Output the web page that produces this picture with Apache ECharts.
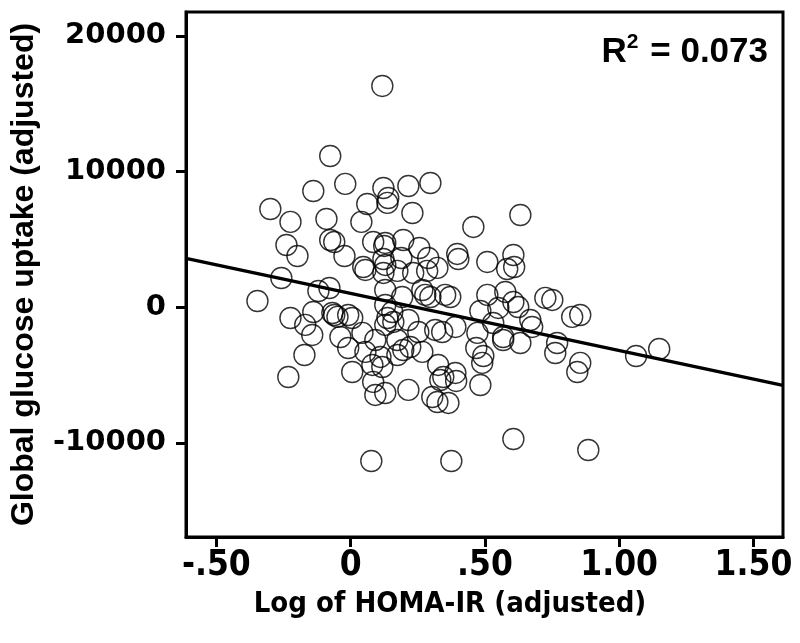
<!DOCTYPE html>
<html>
<head>
<meta charset="utf-8">
<script src="https://cdn.jsdelivr.net/npm/echarts@6/dist/echarts.min.js"></script>
<style>
  html, body { margin: 0; padding: 0; background: #fff; }
  #chart { width: 800px; height: 643px; }
</style>
</head>
<body>
<div id="chart"></div>
<script>
// Log of HOMA-IR (adjusted)
const xValues = [
  0.118, -0.076, -0.020, -0.139, 0.122, 0.215, 0.297, 0.062, 0.140, 0.137,
  -0.299, -0.224, -0.090, 0.040, 0.230, 0.457, 0.632, -0.239, -0.198, -0.076,
  -0.061, -0.023, 0.084, 0.129, 0.125, 0.196, 0.256, 0.047, 0.055, 0.122,
  0.129, 0.189, 0.289, 0.323, 0.397, 0.401, 0.509, 0.606, 0.583, 0.609,
  0.122, 0.174, 0.233, 0.285, -0.258, -0.347, -0.120, -0.079, -0.224, -0.139,
  -0.169, -0.143, -0.068, -0.061, -0.049, -0.038, -0.172, -0.232, 0.129, 0.267,
  0.278, 0.297, 0.352, 0.371, 0.129, 0.192, -0.009, 0.006, 0.137, 0.159,
  0.129, 0.215, 0.252, 0.315, 0.341, 0.390, 0.483, 0.044, 0.092, 0.174,
  0.196, -0.009, 0.055, 0.111, 0.222, 0.267, 0.468, 0.494, 0.490, 0.006,
  0.081, 0.118, 0.326, 0.345, 0.334, 0.390, 0.084, 0.092, 0.129, 0.215,
  0.304, 0.323, 0.364, 0.483, 0.077, 0.375, 0.606, 0.885, 0.509, 0.576,
  0.606, 0.624, 0.550, 0.725, 0.751, 0.825, 0.855, 0.531, 0.669, 0.676,
  0.472, 0.568, 0.568, 0.632, 0.769, 0.762, 0.855, 0.844, 1.063, 1.149,
  0.393, 0.174, 0.155
];
// Global glucose uptake (adjusted)
const yValues = [
  16310, 11150, 9090, 8570, 8790, 8940, 9160, 7610, 8050, 7690,
  7240, 6290, 6510, 6290, 6950, 5920, 6800, 4590, 3780, 4960,
  4810, 3780, 4810, 4740, 4520, 4960, 4370, 2970, 2750, 3560,
  3120, 3630, 3630, 2900, 3930, 3560, 3340, 3850, 2820, 2970,
  2530, 2680, 2530, 2680, 2160, 460, 1200, 1420, -790, -350,
  -1300, -2040, -420, -570, -710, -2190, -3520, -5140, 1270, 1270,
  910, 760, 910, 760, 170, 760, -570, -790, -790, -1080,
  -1300, -940, -1820, -1670, -1820, -1450, -270, -1890, -2410, -2410,
  -3150, -3000, -3290, -3660, -2930, -3290, -3000, -3590, -4100, -4770,
  -4250, -4400, -4250, -5140, -5360, -4840, -5500, -6460, -6320, -6090,
  -6610, -6980, -7050, -5730, -11330, -11330, -9710, -10520, 910, 1130,
  390, 20, -50, 690, 540, -710, -570, -1160, -940, -1450,
  -1890, -2190, -2410, -2630, -2630, -3370, -4100, -4770, -3590, -3070,
  -5430, -3520, -350
];
// Fitted regression line
const fitSlope = -4210;
const fitIntercept = 1020;
const rSquaredText = '0.073';

const xTickValues = [-0.5, 0, 0.5, 1.0, 1.5];
const xTickLabels = ['-.50', '0', '.50', '1.00', '1.50'];
const yTickValues = [-10000, 0, 10000, 20000];
const yTickLabels = ['-10000', '0', '10000', '20000'];

const xMin = -0.613, xMax = 1.61;
const yMin = -16930, yMax = 21760;

const points = xValues.map((x, i) => [x, yValues[i]]);
const fitLine = [
  [xMin, fitIntercept + fitSlope * xMin],
  [xMax, fitIntercept + fitSlope * xMax]
];

const condensed = '"Liberation Sans Narrow", "DejaVu Sans Condensed", sans-serif';

const chart = echarts.init(document.getElementById('chart'), null, { renderer: 'canvas' });
chart.setOption({
  animation: false,
  backgroundColor: '#ffffff',
  grid: {
    left: 186, right: 17, top: 12, bottom: 106,
    show: true, borderColor: '#000', borderWidth: 3, backgroundColor: 'transparent'
  },
  xAxis: {
    type: 'value', min: xMin, max: xMax,
    splitLine: { show: false },
    axisLine: { show: true, onZero: false, lineStyle: { color: '#000', width: 3 } },
    axisTick: { show: true, customValues: xTickValues, length: 10, inside: false, lineStyle: { color: '#000', width: 3 } },
    axisLabel: {
      customValues: xTickValues, margin: 11, color: '#000',
      fontFamily: condensed, fontWeight: 'bold', fontSize: 35,
      formatter: function (v) {
        const i = xTickValues.findIndex(t => Math.abs(t - v) < 1e-9);
        return i >= 0 ? xTickLabels[i] : '';
      }
    },
    name: 'Log of HOMA-IR (adjusted)', nameLocation: 'middle', nameGap: 53,
    nameTextStyle: {
      color: '#000', fontWeight: 'bold', fontSize: 29,
      fontFamily: condensed,
      padding: [0, 69, 0, 0]
    }
  },
  yAxis: {
    type: 'value', min: yMin, max: yMax,
    splitLine: { show: false },
    axisLine: { show: true, onZero: false, lineStyle: { color: '#000', width: 3 } },
    axisTick: { show: true, customValues: yTickValues, length: 10, inside: false, lineStyle: { color: '#000', width: 3 } },
    axisLabel: {
      customValues: yTickValues, margin: 20, color: '#000',
      fontFamily: '"DejaVu Sans", sans-serif', fontWeight: 'bold', fontSize: 29,
      formatter: function (v) {
        const i = yTickValues.indexOf(v);
        return i >= 0 ? yTickLabels[i] : '';
      }
    },
    name: 'Global glucose uptake (adjusted)', nameLocation: 'middle', nameRotate: 90, nameGap: 146,
    nameTextStyle: {
      color: '#000', fontWeight: 'bold', fontSize: 32,
      fontFamily: '"Liberation Sans", Arial, sans-serif'
    }
  },
  graphic: [{
    type: 'text', x: 768, y: 52, z: 10,
    style: {
      text: '{a|R}{b|2}{a| = ' + rSquaredText + '}',
      align: 'right', verticalAlign: 'middle',
      rich: {
        a: { fontSize: 35, fontWeight: 'bold', fontFamily: '"Liberation Sans", sans-serif', fill: '#000', lineHeight: 40 },
        b: { fontSize: 21, fontWeight: 'bold', fontFamily: '"Liberation Sans", sans-serif', fill: '#000', lineHeight: 40, verticalAlign: 'top', padding: [0, 2, 18, 0] }
      }
    }
  }],
  series: [
    {
      type: 'scatter', data: points, symbol: 'circle', symbolSize: 21,
      itemStyle: { color: 'rgba(0,0,0,0)', borderColor: '#000', borderWidth: 1.4 },
      silent: true
    },
    {
      type: 'line', data: fitLine, symbol: 'none', silent: true, z: 5,
      lineStyle: { color: '#000', width: 3.5 }
    }
  ]
});
</script>
</body>
</html>
